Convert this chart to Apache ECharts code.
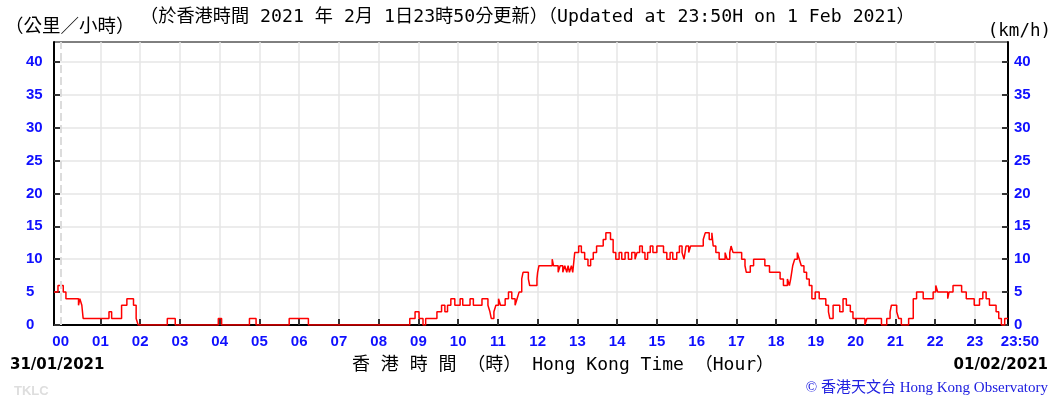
<!DOCTYPE html>
<html>
<head>
<meta charset="utf-8">
<script src="https://cdn.jsdelivr.net/npm/echarts@6/dist/echarts.min.js"></script>
<style>
  html, body { margin: 0; padding: 0; background: #fff; }
  #chart-container { width: 1057px; height: 401px; }
</style>
</head>
<body>
<div id="chart-container"></div>
<script>
// minutes after 00:00 on 1 Feb 2021 where the wind speed changes, and the new value (km/h)
const changeMinutes = [
  -10, -4, 4, 8, 27, 29, 32, 34, 73, 77, 92, 100, 110, 114, 117,
  161, 173, 238, 243, 285, 295, 345, 374,
  527, 535, 541, 547, 551, 568, 575, 580, 584, 589, 595, 603, 607, 618, 623, 636,
  645, 648, 650, 654, 657, 661, 664, 671, 676, 681, 686, 689, 692, 696, 698, 706,
  708, 719, 720, 722, 742, 744, 751, 754, 758, 761, 764, 766, 768, 771, 773,
  774, 776, 782, 786, 791, 796, 800, 804, 809, 819, 823, 830, 834, 838, 843, 847,
  852, 857, 862, 867, 870, 874, 878, 882, 886, 890, 894, 900, 910, 915, 920, 924,
  930, 934, 938, 941, 944, 948, 951, 970, 973, 979, 983, 985, 989, 994, 1003, 1006,
  1010, 1012, 1015, 1028, 1033, 1035, 1041, 1046, 1063, 1070, 1086, 1091, 1097, 1100,
  1102, 1105, 1108, 1112, 1115, 1118, 1122, 1126, 1130, 1134, 1139, 1145, 1155, 1159,
  1161, 1166, 1176, 1181, 1186, 1192, 1196, 1214, 1217, 1239, 1247, 1252, 1254, 1262,
  1265, 1269, 1280, 1287, 1292, 1302, 1317, 1321, 1324, 1339, 1341, 1347, 1360, 1367,
  1379, 1387, 1392, 1397, 1402, 1412, 1416, 1420, 1425, 1430
];
const windSpeed = [
  5, 6, 5, 4, 3, 4, 3, 1, 2, 1, 3, 4, 3, 1, 0,
  1, 0, 1, 0, 1, 0, 1, 0,
  1, 2, 1, 0, 1, 2, 3, 2, 3, 4, 3, 4, 3, 4, 3, 4,
  3, 2, 1, 2, 3, 4, 3, 4, 5, 4, 3, 4, 5, 7, 8, 7,
  6, 7, 8, 9, 10, 9, 8, 9, 8, 9, 8, 9, 8, 9, 8,
  9, 11, 12, 11, 10, 9, 10, 11, 12, 13, 14, 13, 11, 10, 11, 10,
  11, 10, 11, 10, 11, 12, 11, 10, 11, 12, 11, 12, 11, 10, 11, 10,
  11, 12, 11, 10, 12, 11, 12, 13, 14, 13, 14, 12, 11, 10, 11, 10,
  11, 12, 11, 10, 9, 8, 9, 10, 9, 8, 7, 6, 7, 6,
  7, 9, 10, 11, 10, 9, 8, 7, 6, 4, 5, 4, 3, 2,
  1, 3, 2, 4, 3, 2, 1, 0, 1, 0, 1, 2, 3, 2,
  1, 0, 1, 4, 5, 4, 5, 6, 5, 4, 5, 6, 5, 4,
  3, 4, 5, 4, 3, 2, 1, 0, 1, 1
];
const hourTicks = [0, 60, 120, 180, 240, 300, 360, 420, 480, 540, 600, 660, 720, 780,
  840, 900, 960, 1020, 1080, 1140, 1200, 1260, 1320, 1380];
const hourLabels = ['00', '01', '02', '03', '04', '05', '06', '07', '08', '09', '10', '11',
  '12', '13', '14', '15', '16', '17', '18', '19', '20', '21', '22', '23'];
const lastMinute = 1430;
const lastLabel = '23:50';
const speedTicks = [0, 5, 10, 15, 20, 25, 30, 35, 40];

const blue = '#1010ff';
const labelFont = { color: blue, fontWeight: 'bold', fontSize: 15, fontFamily: 'Liberation Sans' };
const monoFont = '18.2px "DejaVu Sans Mono", "Noto Sans CJK TC"';

var chartDom = document.getElementById('chart-container');
var myChart = echarts.init(chartDom);
var option;

const yAxisBase = {
  type: 'value',
  min: 0,
  max: 43,
  axisLine: { show: true, onZero: false, lineStyle: { color: '#000', width: 2 } },
  axisTick: { show: true, inside: true, length: 6, customValues: speedTicks, lineStyle: { color: '#333', width: 2 } },
  splitLine: { show: true, lineStyle: { color: '#e6e6e6', width: 1.5 } },
  axisLabel: Object.assign({ customValues: speedTicks }, labelFont)
};

option = {
  animation: false,
  grid: { left: 54, right: 49, top: 42, bottom: 76, show: true, borderColor: '#000', borderWidth: 1 },
  xAxis: {
    type: 'value',
    min: -10,
    max: lastMinute,
    axisLine: { show: true, onZero: false, lineStyle: { color: '#000', width: 2 } },
    axisTick: { show: true, inside: true, length: 6, customValues: hourTicks, lineStyle: { color: '#333', width: 2 } },
    splitLine: {
      show: true,
      lineStyle: { color: ['rgba(0,0,0,0)'].concat(hourTicks.slice(1).map(() => '#e6e6e6')), width: 1.5 }
    },
    axisLabel: Object.assign({
      customValues: hourTicks.concat([lastMinute]),
      margin: 9,
      formatter: function (v) {
        if (v === lastMinute) return '{e|' + lastLabel + '}';
        return hourLabels[Math.round(v / 60)];
      },
      rich: { e: Object.assign({ padding: [0, 0, 0, 24] }, labelFont) }
    }, labelFont)
  },
  yAxis: [
    Object.assign({}, yAxisBase, { position: 'left', axisLabel: Object.assign({}, yAxisBase.axisLabel, { align: 'left', margin: 28 }) }),
    Object.assign({}, yAxisBase, { position: 'right', splitLine: { show: false }, axisLabel: Object.assign({}, yAxisBase.axisLabel, { margin: 6 }) })
  ],
  series: [
    {
      type: 'line',
      step: 'end',
      showSymbol: false,
      lineStyle: { color: '#ff0000', width: 1.5 },
      data: changeMinutes.map((t, i) => [t, windSpeed[i]]),
      markLine: {
        silent: true,
        symbol: 'none',
        label: { show: false },
        lineStyle: { color: '#dcdcdc', type: 'dashed', width: 2 },
        data: [{ xAxis: 0 }]
      }
    }
  ],
  graphic: [
    { type: 'text', left: 5, top: 16, style: { text: '（公里／小時）', font: '18.5px "Noto Sans CJK TC"', fill: '#000' } },
    { type: 'text', left: 140, top: 8, style: { text: '（於香港時間 2021 年 2月 1日23時50分更新）（Updated at 23:50H on 1 Feb 2021）', font: monoFont, fill: '#000' } },
    { type: 'text', right: 6, top: 22, style: { text: '(km/h)', font: '17.5px "DejaVu Sans Mono"', fill: '#000' } },
    { type: 'text', left: 10, top: 358, style: { text: '31/01/2021', font: 'bold 15px "DejaVu Sans"', fill: '#000' } },
    { type: 'text', left: 352, top: 356, style: { text: '香 港 時 間 （時） Hong Kong Time （Hour）', font: '18px "DejaVu Sans Mono", "Noto Sans CJK TC"', fill: '#000' } },
    { type: 'text', right: 9, top: 358, style: { text: '01/02/2021', font: 'bold 15px "DejaVu Sans"', fill: '#000' } },
    { type: 'text', left: 14, top: 385, style: { text: 'TKLC', font: 'bold 13px "Liberation Sans"', fill: '#dedede' } },
    { type: 'text', right: 9, top: 381, style: { text: '© 香港天文台 Hong Kong Observatory', font: '15px "Liberation Serif", "Noto Sans CJK TC"', fill: '#2020e0' } }
  ]
};

option && myChart.setOption(option);
</script>
</body>
</html>
